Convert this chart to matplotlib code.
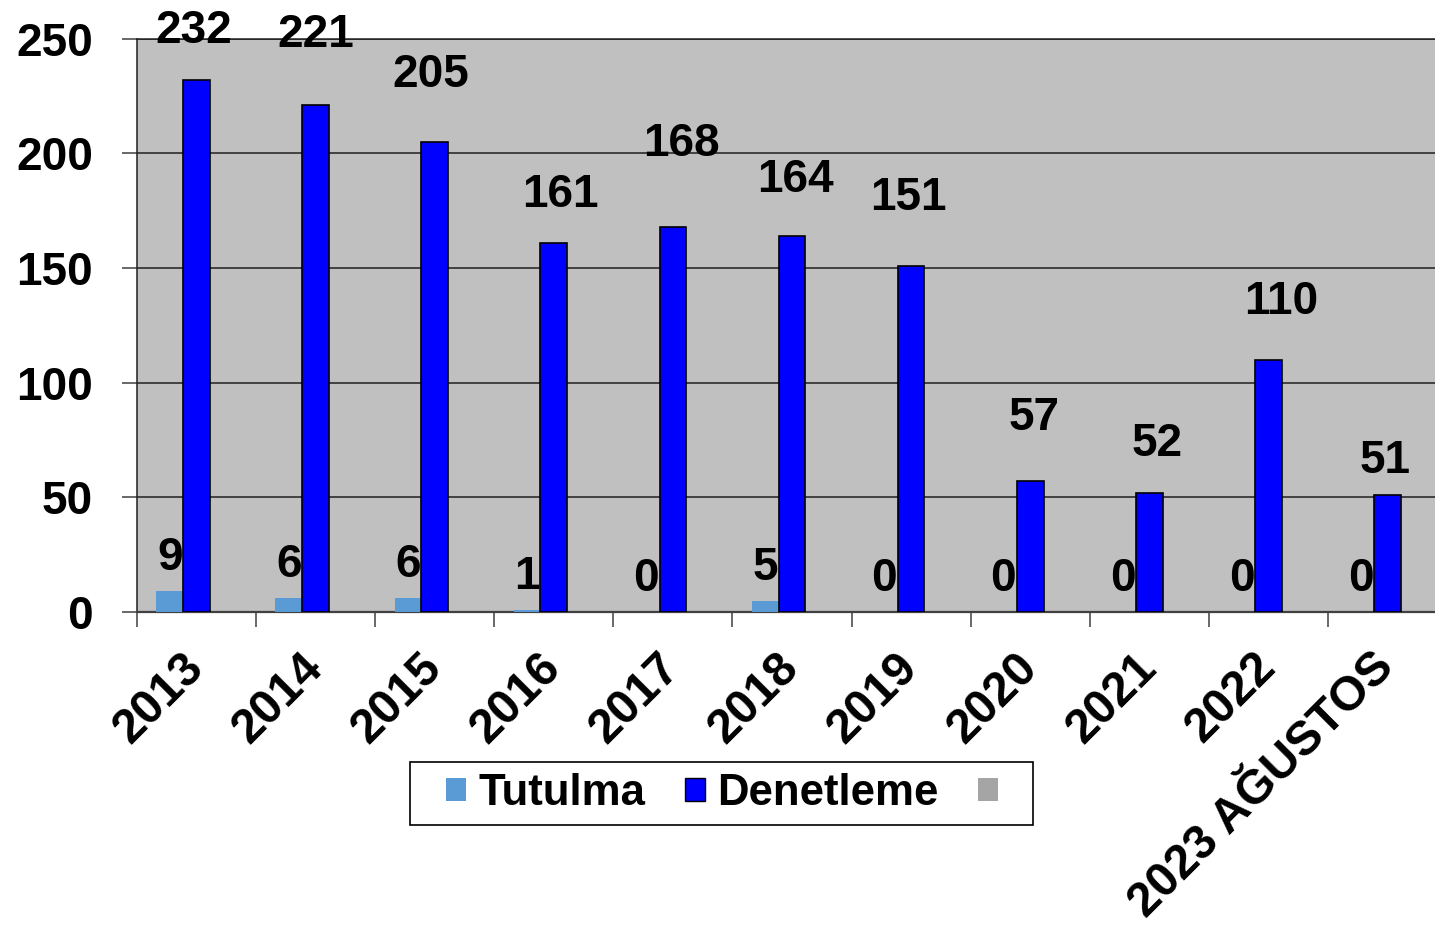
import matplotlib
matplotlib.use("Agg")
import matplotlib.pyplot as plt
from matplotlib.patches import Patch, Rectangle
import numpy as np

# data
years = ["2013", "2014", "2015", "2016", "2017", "2018", "2019",
         "2020", "2021", "2022", "2023 AĞUSTOS"]
tutulma = [9, 6, 6, 1, 0, 5, 0, 0, 0, 0, 0]
denetleme = [232, 221, 205, 161, 168, 164, 151, 57, 52, 110, 51]
ucuncu = [0, 0, 0, 0, 0, 0, 0, 0, 0, 0, 0]
y_ticks = [0, 50, 100, 150, 200, 250]

# hand-placed label nudges (pixels) for the Denetleme labels, as in the original
den_dx = [-2.5, 0, -3.5, 6.5, 8.5, 3, -3, 4, 8, 13, -2.5]
den_dy = [54, 75, 72, 53, 88, 61, 73, 68, 54, 63, 39]

plt.rcParams['font.family'] = ['Liberation Sans', 'DejaVu Sans']
plt.rcParams['font.weight'] = 'bold'
FS = 33

fig = plt.figure(figsize=(14.35, 9.31), dpi=100)
W, H = 1435, 931
ax = fig.add_axes([137 / W, (H - 612) / H, (1447 - 137) / W, (612 - 38.7) / H])
ax.set_facecolor('#C0C0C0')

x = np.arange(len(years))
bw = 0.225
ax.bar(x - bw, tutulma, bw, color='#5B9BD5', zorder=3)
ax.bar(x, denetleme, bw, color='#0000FF', edgecolor='black', linewidth=1.2, zorder=3)
ax.bar(x + bw, ucuncu, bw, color='#A5A5A5', zorder=3)

for i, v in enumerate(tutulma):
    ax.annotate(str(v), (x[i] - bw, v), xytext=(0, 38), textcoords='offset pixels',
                ha='center', va='center_baseline', fontsize=FS, fontweight='bold',
                annotation_clip=False)
for i, v in enumerate(denetleme):
    ax.annotate(str(v), (x[i], v), xytext=(den_dx[i], den_dy[i]), textcoords='offset pixels',
                ha='center', va='center_baseline', fontsize=FS, fontweight='bold',
                annotation_clip=False)

ax.set_xlim(-0.5, len(years) - 0.5)
ax.set_ylim(0, 250)
ax.set_yticks(y_ticks)
ax.set_yticklabels([str(t) for t in y_ticks], fontsize=FS, fontweight='bold')
ax.yaxis.grid(True, color='#202020', linewidth=1.1, zorder=1)
ax.set_axisbelow(True)
ax.tick_params(axis='y', direction='out', length=10.8, width=1.1, pad=21, color='#404040')

ax.set_xticks(x)
ax.set_xticklabels(years, rotation=45, ha='right', va='center',
                   rotation_mode='anchor', fontsize=34.5, fontweight='bold')
ax.tick_params(axis='x', which='major', length=0, pad=35)
ax.set_xticks(np.arange(-0.5, len(years) - 0.5, 1), minor=True)
ax.tick_params(axis='x', which='minor', direction='out', length=10.8, width=1.1, color='#404040')

for s in ['top', 'left']:
    ax.spines[s].set_color('#202020')
    ax.spines[s].set_linewidth(1.1)
ax.spines['bottom'].set_color('#404040')
ax.spines['bottom'].set_linewidth(1.6)
ax.spines['right'].set_visible(False)

# legend box drawn separately so its padding matches the original
fig.patches.append(Rectangle((410 / W, (H - 825) / H), 623 / W, 63 / H,
                             transform=fig.transFigure, facecolor='white',
                             edgecolor='black', linewidth=1.2, zorder=0))
handles = [Patch(facecolor='#5B9BD5', edgecolor='none'),
           Patch(facecolor='#0000FF', edgecolor='black', linewidth=1),
           Patch(facecolor='#A5A5A5', edgecolor='none')]
leg = fig.legend(handles, ['Tutulma', 'Denetleme', ''], loc='center',
                 bbox_to_anchor=(728 / W, (H - 793.5) / H), ncol=3,
                 prop={'weight': 'bold', 'size': 31.5},
                 handlelength=0.46, handleheight=0.46, handletextpad=0.28,
                 columnspacing=0.9, borderpad=0, borderaxespad=0,
                 frameon=False)

fig.savefig('out.png', dpi=100)
